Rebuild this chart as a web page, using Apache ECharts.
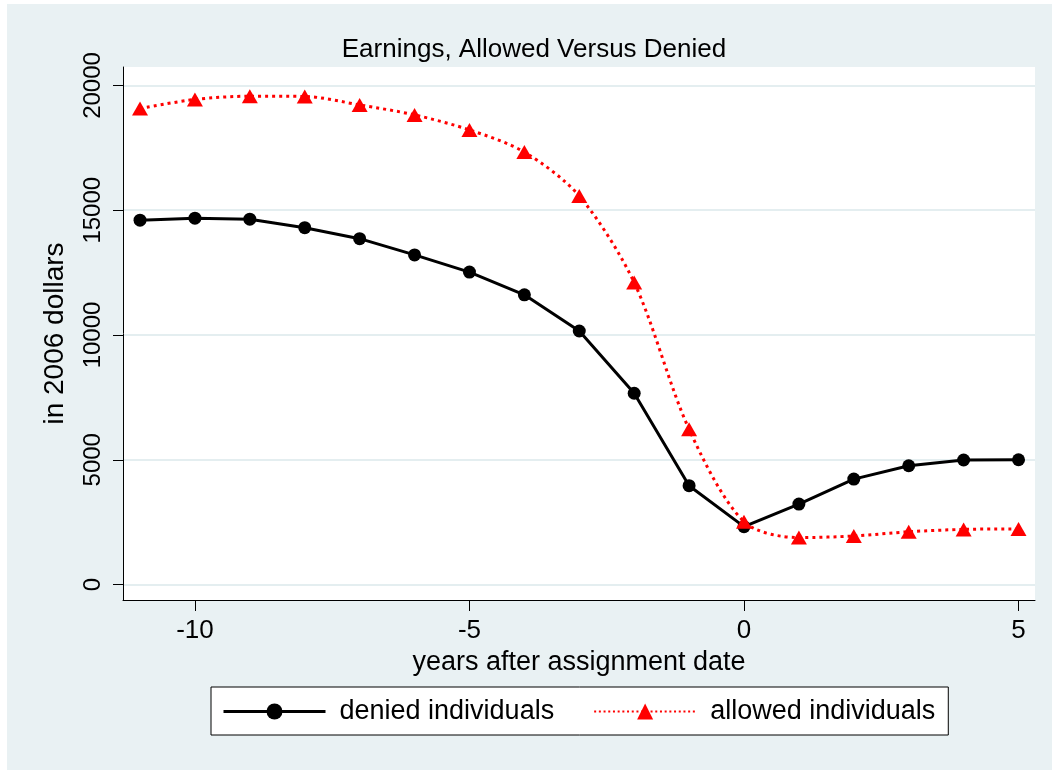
<!DOCTYPE html>
<html>
<head>
<meta charset="utf-8">
<script src="https://cdn.jsdelivr.net/npm/echarts@6/dist/echarts.min.js"></script>
<style>
html,body{margin:0;padding:0;background:#ffffff;}
#chart{width:1052px;height:770px;}
</style>
</head>
<body>
<div id="chart"></div>
<script>
// ---- data ----
const years = [-11, -10, -9, -8, -7, -6, -5, -4, -3, -2, -1, 0, 1, 2, 3, 4, 5];
const denied = [14600, 14680, 14640, 14300, 13860, 13210, 12520, 11610, 10160, 7665, 3960, 2320, 3225, 4225, 4760, 4990, 5000];
const allowed = [19080, 19440, 19570, 19560, 19220, 18820, 18220, 17330, 15570, 12100, 6220, 2520, 1880, 1945, 2115, 2210, 2230];
const xTicks = [-10, -5, 0, 5];
const yTicks = [0, 5000, 10000, 15000, 20000];
const seriesNames = ['denied individuals', 'allowed individuals'];
const titleText = 'Earnings, Allowed Versus Denied';
const xTitle = 'years after assignment date';
const yTitle = 'in 2006 dollars';

const bg = '#e9f1f3';
const font = '"Liberation Sans", Arial, Helvetica, sans-serif';

const chart = echarts.init(document.getElementById('chart'), null, {renderer: 'canvas'});
chart.setOption({
  backgroundColor: '#ffffff',
  animation: false,
  graphic: [{
    type: 'rect', z: -10, silent: true,
    shape: {x: 7, y: 4, width: 1045, height: 766},
    style: {fill: bg}
  }, {
    type: 'rect', z: -9, silent: true,
    shape: {x: 123, y: 67, width: 912, height: 533},
    style: {fill: '#ffffff'}
  }],
  title: {
    text: titleText,
    left: 529, top: 32, textAlign: 'center',
    textStyle: {fontFamily: font, fontWeight: 'normal', fontSize: 26, color: '#000'}
  },
  grid: {left: 123, right: 17, top: 67, bottom: 170, containLabel: false},
  legend: {
    left: 211, top: 687,
    padding: [11, 13, 10, 11],
    backgroundColor: '#ffffff',
    borderColor: '#000000', borderWidth: 1,
    itemWidth: 102, itemHeight: 20, itemGap: 39,
    textStyle: {fontFamily: font, fontSize: 27, color: '#000', padding: [2, 0, 0, 9]},
    data: [
      {name: seriesNames[0], lineStyle: {width: 3, color: '#000'}},
      {name: seriesNames[1], lineStyle: {width: 2, color: '#ff0000', type: [2, 2.7]}}
    ]
  },
  xAxis: {
    type: 'value', min: -11.31, max: 5.3,
    name: xTitle, nameLocation: 'middle', nameGap: 44,
    nameTextStyle: {fontFamily: font, fontSize: 27, color: '#000'},
    axisLine: {show: true, onZero: false, lineStyle: {color: '#000', width: 1}},
    axisTick: {show: true, length: 11, customValues: xTicks, lineStyle: {color: '#000', width: 1}},
    axisLabel: {customValues: xTicks, margin: 18, fontFamily: font, fontSize: 26, color: '#000',
      formatter: v => String(v)},
    splitLine: {show: false}
  },
  yAxis: {
    type: 'value', min: -620, max: 20740,
    name: yTitle, nameLocation: 'middle', nameGap: 54, nameRotate: 90,
    nameTextStyle: {fontFamily: font, fontSize: 28, color: '#000'},
    axisLine: {show: true, onZero: false, lineStyle: {color: '#000', width: 1}},
    axisTick: {show: true, length: 10, customValues: yTicks, lineStyle: {color: '#000', width: 1}},
    axisLabel: {customValues: yTicks, rotate: 90, margin: 18, fontFamily: font, fontSize: 24, color: '#000',
      formatter: v => String(v)},
    splitLine: {show: true, lineStyle: {color: '#e4eef0', width: 2}}
  },
  series: [{
    name: seriesNames[0], type: 'line',
    data: years.map((y, i) => [y, denied[i]]),
    symbol: 'circle', symbolSize: 13,
    itemStyle: {color: '#000'},
    lineStyle: {color: '#000', width: 3},
    clip: false, z: 3
  }, {
    name: seriesNames[1], type: 'line',
    data: years.map((y, i) => [y, allowed[i]]),
    symbol: 'triangle', symbolSize: [16, 14],
    smooth: 0.3,
    itemStyle: {color: '#ff0000'},
    lineStyle: {color: '#ff0000', width: 3, type: [3, 4]},
    clip: false, z: 4
  }]
});
</script>
</body>
</html>
